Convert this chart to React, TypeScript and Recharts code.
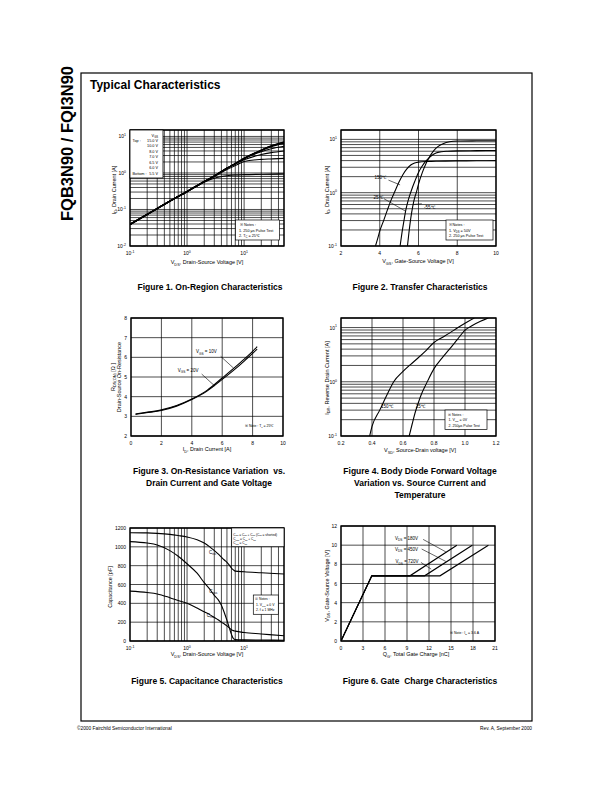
import React from "react";
import {
  LineChart,
  Line,
  XAxis,
  YAxis,
  CartesianGrid,
  ReferenceArea,
  ReferenceLine,
} from "recharts";

const FONT = "'Liberation Sans', Arial, Helvetica, sans-serif";
const TICK_FS = 5;

// Figure 1 - On-Region Characteristics (ID vs VDS, one series per VGS)
const f1Vds = [0.1, 0.2, 0.5, 1, 2, 3, 5, 7, 10, 20, 30, 50];
const f1Vgs15 = [0.039, 0.073, 0.17, 0.31, 0.58, 0.82, 1.35, 1.8, 2.5, 4.2, 5.5, 7.1];
const f1Vgs10 = [0.039, 0.073, 0.17, 0.31, 0.58, 0.82, 1.35, 1.8, 2.5, 4.2, 5.5, 6.9];
const f1Vgs8 = [0.039, 0.073, 0.17, 0.31, 0.58, 0.82, 1.35, 1.8, 2.5, 4.1, 5.3, 6.5];
const f1Vgs7 = [0.039, 0.073, 0.17, 0.31, 0.58, 0.82, 1.35, 1.8, 2.45, 3.8, 4.6, 5.4];
const f1Vgs65 = [0.039, 0.073, 0.17, 0.31, 0.58, 0.82, 1.33, 1.75, 2.3, 3.2, 3.6, 4.0];
const f1Vgs6 = [0.039, 0.073, 0.17, 0.31, 0.58, 0.8, 1.25, 1.6, 2.05, 2.35, 2.42, 2.5];
const f1Vgs55 = [0.039, 0.073, 0.17, 0.31, 0.56, 0.72, 0.84, 0.88, 0.9, 0.92, 0.93, 0.95];

// Figure 2 - Transfer Characteristics
const f2Vgs150 = [3.78, 3.9, 4.0, 4.2, 4.4, 4.6, 4.8, 5.0, 5.2, 5.4, 5.6, 5.8, 6.0, 6.5, 7, 8, 9, 10];
const f2Id150 = [0.1, 0.14, 0.19, 0.3, 0.48, 0.75, 1.1, 1.6, 2.2, 2.8, 3.3, 3.6, 3.75, 3.85, 3.9, 3.95, 3.97, 4.0];
const f2Vgs25 = [5.05, 5.15, 5.25, 5.35, 5.45, 5.55, 5.65, 5.8, 6.0, 6.2, 6.4, 6.6, 6.8, 7.0, 7.5, 8, 9, 10];
const f2Id25 = [0.1, 0.18, 0.3, 0.48, 0.68, 0.9, 1.15, 1.6, 2.4, 3.2, 4.0, 4.7, 5.3, 5.7, 6.0, 6.1, 6.15, 6.2];
const f2VgsM55 = [5.43, 5.5, 5.6, 5.7, 5.8, 5.9, 6.0, 6.2, 6.4, 6.6, 6.8, 7.0, 7.3, 7.6, 8, 9, 10];
const f2IdM55 = [0.1, 0.17, 0.33, 0.55, 0.8, 1.05, 1.45, 2.4, 3.6, 4.9, 6.2, 7.3, 8.4, 9.0, 9.3, 9.4, 9.45];

// Figure 3 - On-Resistance vs Drain Current
const f3Id = [0.3, 1, 2, 3, 4, 5, 6, 7, 7.5, 8, 8.3];
const f3Vgs10 = [3.12, 3.2, 3.33, 3.55, 3.88, 4.32, 4.95, 5.6, 5.95, 6.3, 6.55];
const f3Vgs20 = [3.1, 3.18, 3.3, 3.52, 3.85, 4.28, 4.88, 5.5, 5.85, 6.2, 6.42];

// Figure 4 - Body Diode Forward Voltage
const f4Vsd150 = [0.385, 0.4, 0.45, 0.5, 0.54, 0.6, 0.65, 0.7, 0.75, 0.8, 0.85, 0.9, 0.95, 1.0, 1.06];
const f4Idr150 = [0.1, 0.15, 0.3, 0.6, 1.0, 1.55, 2.1, 2.8, 3.8, 5.3, 6.5, 7.9, 9.8, 12, 15];
const f4Vsd25 = [0.64, 0.66, 0.68, 0.7, 0.72, 0.74, 0.76, 0.8, 0.85, 0.9, 0.95, 1.0, 1.05, 1.1, 1.15];
const f4Idr25 = [0.1, 0.17, 0.28, 0.42, 0.6, 0.8, 1.05, 1.75, 2.7, 4.0, 6.0, 9.0, 11, 13, 15];

// Figure 5 - Capacitance Characteristics
const f5Vds = [0.1, 0.2, 0.3, 0.5, 0.7, 1, 1.5, 2, 2.5, 3, 3.5, 4, 4.5, 5, 5.5, 6, 6.5, 7, 10, 20, 50];
const f5Ciss = [1150, 1148, 1143, 1132, 1120, 1105, 1075, 1040, 1000, 960, 925, 890, 860, 835, 805, 775, 755, 742, 735, 725, 712];
const f5Coss = [1055, 1040, 1020, 960, 900, 820, 720, 620, 550, 485, 440, 380, 300, 220, 140, 70, 25, 15, 12, 10, 8];
const f5Crss = [530, 515, 500, 460, 430, 400, 350, 310, 280, 250, 225, 200, 180, 160, 140, 120, 110, 105, 90, 75, 55];

// Figure 6 - Gate Charge Characteristics
const f6Q180 = [0, 4.2, 9.4, 15.8];
const f6Q450 = [0, 4.2, 11.4, 17.9];
const f6Q720 = [0, 4.2, 13.5, 20.1];
const f6Vgs = [0, 6.8, 6.8, 10];

const linTicks2 = [0, 2, 4, 6, 8, 10];
const f2XTicks = [2, 4, 6, 8, 10];
const f3YTicks = [2, 3, 4, 5, 6, 7, 8];
const f4XTicks = [0.2, 0.4, 0.6, 0.8, 1.0, 1.2];
const f5YTicks = [0, 200, 400, 600, 800, 1000, 1200];
const f6XTicks = [0, 3, 6, 9, 12, 15, 18, 21];
const f6YTicks = [0, 2, 4, 6, 8, 10, 12];

function logTicks(lo: number, hi: number) {
  const out: number[] = [];
  for (let e = Math.floor(Math.log10(lo)); e <= Math.ceil(Math.log10(hi)); e++) {
    for (let m = 1; m <= 9; m++) {
      const v = +(m * Math.pow(10, e)).toPrecision(3);
      if (v >= lo - 1e-12 && v <= hi + 1e-12) out.push(v);
    }
  }
  return out;
}

const pts = (xs: number[], ys: number[]) => xs.map((x, i) => ({ x, y: ys[i] }));

function XTick(props: any) {
  const { x, y, payload, log, fmt } = props;
  const v = payload.value as number;
  if (log) {
    const e = Math.log10(v);
    if (Math.abs(e - Math.round(e)) > 1e-6) return <g />;
    return (
      <text x={x} y={y + 6} textAnchor="middle" fontSize={TICK_FS} fontFamily={FONT} fill="#000">
        10<tspan dy={-2.2} fontSize={TICK_FS * 0.7}>{Math.round(e)}</tspan>
      </text>
    );
  }
  return (
    <text x={x} y={y + 6} textAnchor="middle" fontSize={TICK_FS} fontFamily={FONT} fill="#000">
      {fmt ? fmt(v) : v}
    </text>
  );
}

function YTick(props: any) {
  const { x, y, payload, log, fmt } = props;
  const v = payload.value as number;
  if (log) {
    const e = Math.log10(v);
    if (Math.abs(e - Math.round(e)) > 1e-6) return <g />;
    return (
      <text x={x - 1} y={y + 2} textAnchor="end" fontSize={TICK_FS} fontFamily={FONT} fill="#000">
        10<tspan dy={-2.2} fontSize={TICK_FS * 0.7}>{Math.round(e)}</tspan>
      </text>
    );
  }
  return (
    <text x={x - 1} y={y + 2} textAnchor="end" fontSize={TICK_FS} fontFamily={FONT} fill="#000">
      {fmt ? fmt(v) : v}
    </text>
  );
}

type Box = { l: number; t: number; r: number; b: number };
type AxisCfg = { domain: [number, number]; ticks: number[]; log?: boolean; fmt?: (v: number) => string };

const PADL = 34;
const PADT = 8;
const PADR = 8;
const PADB = 16;

function Panel({ box, x, y, children }: { box: Box; x: AxisCfg; y: AxisCfg; children: React.ReactNode }) {
  const w = box.r - box.l + PADL + PADR;
  const h = box.b - box.t + PADT + PADB;
  return (
    <div style={{ position: "absolute", left: box.l - PADL, top: box.t - PADT }}>
      <LineChart width={w} height={h} margin={{ top: PADT, right: PADR, left: 0, bottom: 0 }}>
        <CartesianGrid stroke="#000" strokeWidth={0.7} />
        <XAxis
          dataKey="x"
          type="number"
          scale={x.log ? "log" : "linear"}
          domain={x.domain}
          ticks={x.ticks}
          interval={0}
          allowDataOverflow
          axisLine={false}
          tickLine={false}
          tickSize={0}
          tickMargin={3}
          height={PADB}
          tick={<XTick log={x.log} fmt={x.fmt} />}
        />
        <YAxis
          type="number"
          scale={y.log ? "log" : "linear"}
          domain={y.domain}
          ticks={y.ticks}
          interval={0}
          allowDataOverflow
          axisLine={false}
          tickLine={false}
          tickSize={0}
          tickMargin={3}
          width={PADL}
          tick={<YTick log={y.log} fmt={y.fmt} />}
        />
        {children}
        <ReferenceArea
          x1={x.domain[0]}
          x2={x.domain[1]}
          y1={y.domain[0]}
          y2={y.domain[1]}
          fill="none"
          stroke="#000"
          strokeWidth={1.3}
          ifOverflow="visible"
        />
      </LineChart>
    </div>
  );
}

function curve(key: string, data: { x: number; y: number }[], type: "monotone" | "linear" = "monotone", width = 1.1) {
  return (
    <Line
      key={key}
      data={data}
      dataKey="y"
      type={type}
      stroke="#000"
      strokeWidth={width}
      dot={false}
      isAnimationActive={false}
    />
  );
}

function arrow(key: string, x1: number, y1: number, x2: number, y2: number) {
  return (
    <ReferenceLine
      key={key}
      segment={[{ x: x1, y: y1 }, { x: x2, y: y2 }]}
      stroke="#000"
      strokeWidth={0.6}
      ifOverflow="visible"
    />
  );
}

// simple markup: _{sub} and ^{sup}
function Rich({
  x,
  y,
  s,
  fs = 5.5,
  anchor = "start",
  weight = "normal",
  rotate = false,
}: {
  x: number;
  y: number;
  s: string;
  fs?: number;
  anchor?: "start" | "middle" | "end";
  weight?: string;
  rotate?: boolean;
}) {
  const parts: React.ReactNode[] = [];
  const re = /([_^])\{([^}]*)\}/g;
  let last = 0;
  let shift = 0;
  let k = 0;
  let m: RegExpExecArray | null;
  const push = (text: string, target: number, size: number) => {
    const dy = target - shift;
    shift = target;
    parts.push(
      <tspan key={k++} dy={dy ? dy : undefined} fontSize={size}>
        {text}
      </tspan>
    );
  };
  while ((m = re.exec(s))) {
    if (m.index > last) push(s.slice(last, m.index), 0, fs);
    push(m[2], m[1] === "_" ? fs * 0.3 : -fs * 0.4, fs * 0.7);
    last = re.lastIndex;
  }
  if (last < s.length) push(s.slice(last), 0, fs);
  return (
    <text
      x={x}
      y={y}
      fontSize={fs}
      textAnchor={anchor}
      fontWeight={weight}
      fontFamily={FONT}
      fill="#000"
      style={{ whiteSpace: "pre" }}
      transform={rotate ? `rotate(-90 ${x} ${y})` : undefined}
    >
      {parts}
    </text>
  );
}

const box1: Box = { l: 130, t: 130, r: 284, b: 246 };
const box2: Box = { l: 341, t: 130, r: 496, b: 246 };
const box3: Box = { l: 131, t: 318, r: 283, b: 436 };
const box4: Box = { l: 341, t: 318, r: 496, b: 436 };
const box5: Box = { l: 130, t: 528, r: 284, b: 641 };
const box6: Box = { l: 341, t: 526, r: 495, b: 641 };

function NoteBox({ x, y, w, h }: { x: number; y: number; w: number; h: number }) {
  return <rect x={x} y={y} width={w} height={h} fill="#fff" stroke="#000" strokeWidth={0.7} />;
}

function Overlay() {
  return (
    <svg width={612} height={792} style={{ position: "absolute", left: 0, top: 0 }}>
      {/* page frame and headings */}
      <rect x={81} y={73} width={451} height={648} fill="none" stroke="#000" strokeWidth={1.2} />
      <Rich x={73} y={66} s="FQB3N90 / FQI3N90" fs={16.5} weight="bold" anchor="end" rotate />
      <Rich x={90} y={89} s="Typical Characteristics" fs={12} weight="bold" />

      {/* Figure 1 */}
      <rect x={130} y={130} width={33} height={48} fill="#fff" stroke="#000" strokeWidth={0.8} />
      <Rich x={158} y={136.5} s="V_{GS}" fs={3.8} anchor="end" />
      <Rich x={132.5} y={141.5} s="Top :" fs={3.8} />
      <Rich x={158} y={141.5} s="15.0 V" fs={3.8} anchor="end" />
      <Rich x={158} y={147} s="10.0 V" fs={3.8} anchor="end" />
      <Rich x={158} y={152.5} s="8.0 V" fs={3.8} anchor="end" />
      <Rich x={158} y={158} s="7.0 V" fs={3.8} anchor="end" />
      <Rich x={158} y={163.5} s="6.5 V" fs={3.8} anchor="end" />
      <Rich x={158} y={169} s="6.0 V" fs={3.8} anchor="end" />
      <Rich x={132.5} y={174.5} s="Bottom :" fs={3.8} />
      <Rich x={158} y={174.5} s="5.5 V" fs={3.8} anchor="end" />
      <NoteBox x={235.5} y={220} w={44} h={20} />
      <Rich x={240} y={226.3} s="※ Notes :" fs={3.8} />
      <Rich x={239} y={231.5} s="1. 250 μs Pulse Test" fs={3.8} />
      <Rich x={239} y={236.5} s="2. T_{C} = 25℃" fs={3.8} />
      <Rich x={115.5} y={190} s="I_{D}, Drain Current [A]" rotate anchor="middle" />
      <Rich x={207} y={264} s="V_{DS}, Drain-Source Voltage [V]" anchor="middle" />
      <Rich x={210} y={290} s="Figure 1. On-Region Characteristics" fs={8.5} weight="bold" anchor="middle" />

      {/* Figure 2 */}
      <Rich x={374.5} y={178.5} s="150℃" fs={4.5} />
      <Rich x={373.5} y={198.5} s="25℃" fs={4.5} />
      <Rich x={424} y={208.5} s="-55℃" fs={4.5} />
      <NoteBox x={446} y={220} w={47} h={20} />
      <Rich x={448.5} y={226} s="※ Notes :" fs={3.8} />
      <Rich x={449} y={231.5} s="1. V_{DS} = 50V" fs={3.8} />
      <Rich x={449} y={236.5} s="2. 250 μs Pulse Test" fs={3.8} />
      <Rich x={328.5} y={190} s="I_{D}, Drain Current [A]" rotate anchor="middle" />
      <Rich x={418} y={263} s="V_{GS}, Gate-Source Voltage [V]" anchor="middle" />
      <Rich x={420} y={290} s="Figure 2. Transfer Characteristics" fs={8.5} weight="bold" anchor="middle" />

      {/* Figure 3 */}
      <Rich x={196} y={353.3} s="V_{GS} = 10V" fs={4.5} />
      <Rich x={177.7} y={371.7} s="V_{GS} = 20V" fs={4.5} />
      <Rich x={245} y={426.5} s="※ Note : T_{J} = 25℃" fs={3.5} />
      <Rich x={114.5} y={377} s="R_{DS(ON)} [Ω ]" rotate anchor="middle" />
      <Rich x={121} y={377} s="Drain-Source On-Resistance" rotate anchor="middle" />
      <Rich x={207} y={451} s="I_{D}, Drain Current [A]" anchor="middle" />
      <Rich x={209} y={474} s="Figure 3. On-Resistance Variation  vs." fs={8.5} weight="bold" anchor="middle" />
      <Rich x={209} y={486} s="Drain Current and Gate Voltage" fs={8.5} weight="bold" anchor="middle" />

      {/* Figure 4 */}
      <Rich x={381} y={408.3} s="150℃" fs={4.5} />
      <Rich x={415.7} y={408.3} s="25℃" fs={4.5} />
      <NoteBox x={445} y={410} w={42} h={19.5} />
      <Rich x={448} y={415.5} s="※ Notes :" fs={3.6} />
      <Rich x={448.5} y={421} s="1. V_{GS} = 0V" fs={3.6} />
      <Rich x={448.5} y={426.5} s="2. 250μs Pulse Test" fs={3.6} />
      <Rich x={328.5} y={378} s="I_{DR}, Reverse Drain Current [A]" rotate anchor="middle" />
      <Rich x={420} y={452} s="V_{SD}, Source-Drain voltage [V]" anchor="middle" />
      <Rich x={420} y={474} s="Figure 4. Body Diode Forward Voltage" fs={8.5} weight="bold" anchor="middle" />
      <Rich x={420} y={486} s="Variation vs. Source Current and" fs={8.5} weight="bold" anchor="middle" />
      <Rich x={420} y={497.5} s="Temperature" fs={8.5} weight="bold" anchor="middle" />

      {/* Figure 5 */}
      <rect x={231.7} y={528} width={52.3} height={18.7} fill="#fff" stroke="#000" strokeWidth={0.7} />
      <Rich x={233.3} y={535.5} s="C_{iss} = C_{gs} + C_{gd} (C_{ds} = shorted)" fs={3.2} />
      <Rich x={233.3} y={539.8} s="C_{oss} = C_{ds} + C_{gd}" fs={3.2} />
      <Rich x={233.3} y={544.2} s="C_{rss} = C_{gd}" fs={3.2} />
      <Rich x={209} y={554} s="C_{iss}" fs={4.5} />
      <Rich x={209.3} y={592.5} s="C_{oss}" fs={4.5} />
      <Rich x={206.7} y={616.5} s="C_{rss}" fs={4.5} />
      <NoteBox x={253.3} y={595} w={25} h={19.3} />
      <Rich x={255} y={600} s="※ Notes :" fs={3.4} />
      <Rich x={256} y={605.5} s="1. V_{GS} = 0 V" fs={3.4} />
      <Rich x={256} y={610.5} s="2. f = 1 MHz" fs={3.4} />
      <Rich x={112} y={587} s="Capacitance [pF]" rotate anchor="middle" />
      <Rich x={207} y={656} s="V_{DS}, Drain-Source Voltage [V]" anchor="middle" />
      <Rich x={207} y={684} s="Figure 5. Capacitance Characteristics" fs={8.5} weight="bold" anchor="middle" />

      {/* Figure 6 */}
      <Rich x={395} y={540} s="V_{DS} = 180V" fs={4.5} />
      <Rich x={395} y={550.7} s="V_{DS} = 450V" fs={4.5} />
      <Rich x={395.5} y={563.3} s="V_{DS} = 720V" fs={4.5} />
      <Rich x={450} y={634} s="※ Note : I_{D} = 3.6 A" fs={3.5} />
      <Rich x={328.5} y={586} s="V_{GS}, Gate-Source Voltage [V]" rotate anchor="middle" />
      <Rich x={416} y={656} s="Q_{G}, Total Gate Charge [nC]" anchor="middle" />
      <Rich x={420} y={684} s="Figure 6. Gate  Charge Characteristics" fs={8.5} weight="bold" anchor="middle" />

      {/* footer */}
      <Rich x={77} y={729.5} s="©2000 Fairchild Semiconductor International" fs={4.8} />
      <Rich x={532} y={729.5} s="Rev. A, September 2000" fs={4.8} anchor="end" />
    </svg>
  );
}

export default function App() {
  return (
    <div style={{ position: "absolute", left: 0, top: 0, width: 612, height: 792, background: "#fff" }}>
      <Panel
        box={box1}
        x={{ domain: [0.1, 50], ticks: logTicks(0.1, 50), log: true }}
        y={{ domain: [0.01, 15], ticks: logTicks(0.01, 10), log: true }}
      >
        {curve("v15", pts(f1Vds, f1Vgs15), "monotone", 1.4)}
        {curve("v10", pts(f1Vds, f1Vgs10), "monotone", 1.4)}
        {curve("v8", pts(f1Vds, f1Vgs8), "monotone", 1.4)}
        {curve("v7", pts(f1Vds, f1Vgs7))}
        {curve("v65", pts(f1Vds, f1Vgs65))}
        {curve("v6", pts(f1Vds, f1Vgs6))}
        {curve("v55", pts(f1Vds, f1Vgs55))}
      </Panel>

      <Panel
        box={box2}
        x={{ domain: [2, 10], ticks: f2XTicks }}
        y={{ domain: [0.1, 15], ticks: logTicks(0.1, 10), log: true }}
      >
        {curve("t150", pts(f2Vgs150, f2Id150))}
        {curve("t25", pts(f2Vgs25, f2Id25))}
        {curve("tm55", pts(f2VgsM55, f2IdM55))}
        {arrow("a150", 4.45, 1.72, 5.05, 1.4)}
        {arrow("a25", 4.22, 0.77, 5.33, 0.45)}
        {arrow("am55", 6.17, 0.62, 5.72, 0.6)}
      </Panel>

      <Panel box={box3} x={{ domain: [0, 10], ticks: linTicks2 }} y={{ domain: [2, 8], ticks: f3YTicks }}>
        {curve("r10", pts(f3Id, f3Vgs10))}
        {curve("r20", pts(f3Id, f3Vgs20))}
        {arrow("a10", 5.9, 6.05, 6.75, 5.45)}
        {arrow("a20", 4.65, 5.15, 5.5, 4.55)}
      </Panel>

      <Panel
        box={box4}
        x={{ domain: [0.2, 1.2], ticks: f4XTicks, fmt: (v) => v.toFixed(1) }}
        y={{ domain: [0.1, 15], ticks: logTicks(0.1, 10), log: true }}
      >
        {curve("d150", pts(f4Vsd150, f4Idr150))}
        {curve("d25", pts(f4Vsd25, f4Idr25))}
      </Panel>

      <Panel
        box={box5}
        x={{ domain: [0.1, 50], ticks: logTicks(0.1, 50), log: true }}
        y={{ domain: [0, 1200], ticks: f5YTicks }}
      >
        {curve("ciss", pts(f5Vds, f5Ciss))}
        {curve("coss", pts(f5Vds, f5Coss))}
        {curve("crss", pts(f5Vds, f5Crss))}
      </Panel>

      <Panel box={box6} x={{ domain: [0, 21], ticks: f6XTicks }} y={{ domain: [0, 12], ticks: f6YTicks }}>
        {curve("q180", pts(f6Q180, f6Vgs), "linear")}
        {curve("q450", pts(f6Q450, f6Vgs), "linear")}
        {curve("q720", pts(f6Q720, f6Vgs), "linear")}
        {arrow("b180", 11.2, 10.6, 14.3, 9.3)}
        {arrow("b450", 11.0, 9.6, 14.3, 8.3)}
        {arrow("b720", 10.9, 8.2, 12.3, 7.5)}
      </Panel>

      <Overlay />
    </div>
  );
}
